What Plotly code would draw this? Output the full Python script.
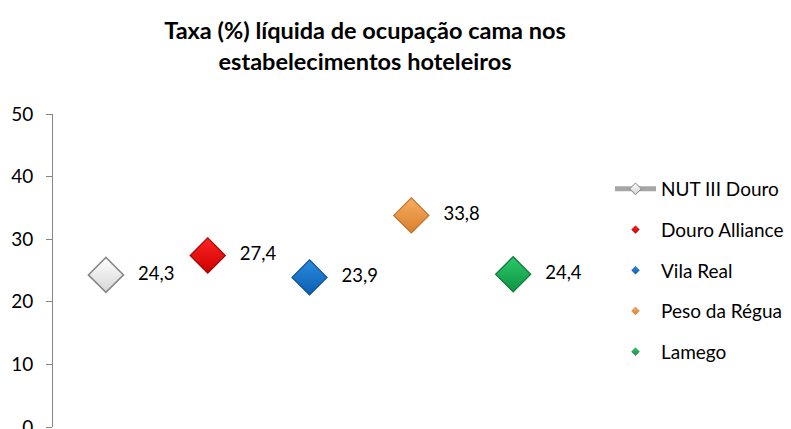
import plotly.graph_objects as go

title_text = "Taxa (%) líquida de ocupação cama nos<br>estabelecimentos hoteleiros"
series_names = ["NUT III Douro", "Douro Alliance", "Vila Real", "Peso da Régua", "Lamego"]
series_values = [24.3, 27.4, 23.9, 33.8, 24.4]
top_colors = ["#ffffff", "#ff2424", "#2a8ae0", "#f8ac60", "#2cc86a"]
bottom_colors = ["#d6d6d6", "#cc0000", "#0c5fb0", "#d8802e", "#0e9442"]
edge_colors = ["#8a8a8a", "#b00000", "#0a4f96", "#c07028", "#0b7d38"]

y_ticks = [0, 10, 20, 30, 40, 50]
FONT = "Lato"

fig = go.Figure()

for i, name in enumerate(series_names):
    fig.add_trace(go.Scatter(
        x=[name], y=[series_values[i]],
        mode="markers+text",
        marker=dict(symbol="diamond", size=27, color=top_colors[i],
                    gradient=dict(type="vertical", color=bottom_colors[i]),
                    line=dict(color=edge_colors[i], width=1.2 if i else 1.6)),
        text=[series_values[i]],
        texttemplate="\u00a0\u00a0\u00a0%{y:.1f}",
        textposition="middle right",
        textfont=dict(family=FONT, size=18.5, color="#000000"),
        showlegend=False, cliponaxis=False,
    ))

# legend entries
for i, name in enumerate(series_names):
    if i == 0:
        fig.add_trace(go.Scatter(
            x=[None], y=[None], mode="lines+markers", name=name,
            line=dict(color="#a6a6a6", width=5),
            marker=dict(symbol="diamond", size=9, color="#ffffff",
                        gradient=dict(type="vertical", color="#d0d0d0"),
                        line=dict(color="#808080", width=1)),
            legendgroup=name, showlegend=True,
        ))
    else:
        fig.add_trace(go.Scatter(
            x=[None], y=[None], mode="markers", name=name,
            marker=dict(symbol="diamond", size=6, color=top_colors[i],
                        gradient=dict(type="vertical", color=bottom_colors[i]),
                        line=dict(color=edge_colors[i], width=0.5)),
            legendgroup=name, showlegend=True,
        ))

fig.update_layout(
    width=791, height=429,
    margin=dict(l=53, r=229, t=114, b=2, autoexpand=False),
    paper_bgcolor="#ffffff", plot_bgcolor="#ffffff",
    separators=", ",
    font=dict(family=FONT, size=18, color="#000000"),
    title=dict(text="<b>" + title_text + "</b>", x=365 / 791, xanchor="center",
               xref="container",
               y=1 - 39 / 429, yanchor="middle", yref="container",
               font=dict(family=FONT, size=23.5, color="#000000")),
    xaxis=dict(type="category", categoryorder="array", categoryarray=series_names,
               range=[-0.52, 4.48], visible=False, showgrid=False, zeroline=False,
               automargin=False),
    yaxis=dict(range=[0, 50], tickvals=y_ticks, showline=True, linecolor="#868686",
               linewidth=1, ticks="outside", ticklen=6, tickcolor="#868686",
               showgrid=False, zeroline=False, ticklabelstandoff=9,
               ticklabeloverflow="allow", automargin=False,
               tickfont=dict(family=FONT, size=19, color="#000000")),
    legend=dict(x=610 / 791, xref="container", xanchor="left", y=1 - 170 / 429, yref="container",
                yanchor="top", tracegroupgap=13, itemwidth=41,
                font=dict(family=FONT, size=19, color="#000000"),
                bgcolor="rgba(0,0,0,0)"),
)

fig.write_html("out.html", config={"displayModeBar": False},
               post_script="document.body.style.margin='0';document.body.style.padding='0';")
